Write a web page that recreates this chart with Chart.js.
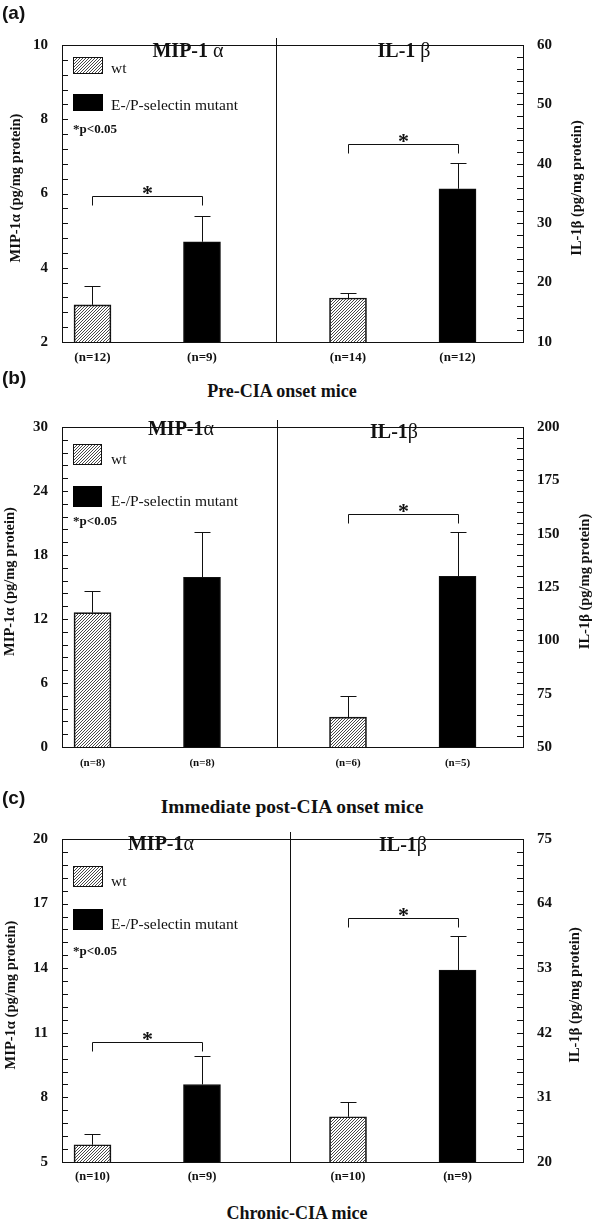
<!DOCTYPE html>
<html><head><meta charset="utf-8">
<script src="https://cdn.jsdelivr.net/npm/chart.js@4/dist/chart.umd.min.js"></script>
<style>
html,body{margin:0;padding:0;background:#fff;}
#page{position:relative;width:600px;height:1222px;overflow:hidden;background:#fff;}
canvas{position:absolute;}
.cap{position:absolute;white-space:nowrap;text-align:center;line-height:1;font-family:"Liberation Serif","Times New Roman",serif;font-weight:bold;color:#111;}
.plab{position:absolute;white-space:nowrap;line-height:1;font-family:"Liberation Sans",Arial,sans-serif;font-weight:bold;font-size:19px;color:#111;}
</style></head><body><div id="page"></div>
<script>
// ---------- data ----------
const panelLetters = ['(a)', '(b)', '(c)'];
const panelCaptions = ['Pre-CIA onset mice', 'Immediate post-CIA onset mice', 'Chronic-CIA mice'];
const legendLabels = ['wt', 'E-/P-selectin mutant'];
const sigNote = '*p<0.05';
const mipTitles = ['MIP-1 α', 'MIP-1α', 'MIP-1α'];
const ilTitles = ['IL-1 β', 'IL-1β', 'IL-1β'];
const mipAxisTitle = 'MIP-1α (pg/mg protein)';
const ilAxisTitle = 'IL-1β (pg/mg protein)';

const mipWt = [3.0, 12.6, 5.8];
const mipWtErr = [0.5, 2.0, 0.5];
const mipMut = [4.7, 15.9, 8.6];
const mipMutErr = [0.7, 4.3, 1.3];
const ilWt = [17.4, 64, 27.7];
const ilWtErr = [0.85, 10, 2.5];
const ilMut = [35.8, 130, 52.7];
const ilMutErr = [4.4, 21, 5.7];

const mipN = [['(n=12)', '(n=9)'], ['(n=8)', '(n=8)'], ['(n=10)', '(n=9)']];
const ilN = [['(n=14)', '(n=12)'], ['(n=6)', '(n=5)'], ['(n=10)', '(n=9)']];

const mipTicks = [[2, 4, 6, 8, 10], [0, 6, 12, 18, 24, 30], [5, 8, 11, 14, 17, 20]];
const ilTicks = [[10, 20, 30, 40, 50, 60], [50, 75, 100, 125, 150, 175, 200], [20, 31, 42, 53, 64, 75]];

const mipSigLevel = [5.92, null, 10.58];
const ilSigLevel = [43.4, 159.4, 61.5];

// ---------- layout / style ----------
const SERIF = "'Liberation Serif','Times New Roman',serif";
const INK = '#111';
const layout = [
  {top:34, bottom:342, div:276, xL:[0.7215,2.676], xR:[0.3425,2.598],
   mipTitle:[188,52], ilTitle:[404,52], leftTitleX:16, rightTitleX:577,
   legend:{x:73,w:29,h:16,wtY:57,mutY:94,pY:133},
   nFont:13, nPad:8, letterTop:3, cap:{cx:282, base:397, size:18}},
  {top:416, bottom:747, div:277, xL:[0.7215,2.685], xR:[0.3516,2.598],
   mipTitle:[181,430], ilTitle:[394,433], leftTitleX:10, rightTitleX:585,
   legend:{x:73,w:28,h:20,wtY:444,mutY:486,pY:525},
   nFont:11, nPad:10, letterTop:368, cap:{cx:292, base:813, size:19.5}},
  {top:828, bottom:1162, div:290, xL:[0.7215,2.804], xR:[0.4703,2.598],
   mipTitle:[161,845], ilTitle:[403,846], leftTitleX:11, rightTitleX:575,
   legend:{x:73,w:29,h:20,wtY:866,mutY:909,pY:955},
   nFont:12.5, nPad:7, letterTop:788, cap:{cx:297, base:1219, size:18}}
];

function makeHatch(){
  const c = document.createElement('canvas'); c.width = 3; c.height = 3;
  const g = c.getContext('2d');
  g.strokeStyle = '#333'; g.lineWidth = 0.9;
  g.beginPath();
  g.moveTo(0,3); g.lineTo(3,0);
  g.moveTo(-1,1); g.lineTo(1,-1);
  g.moveTo(2,4); g.lineTo(4,2);
  g.stroke();
  return g.createPattern(c, 'repeat');
}
const hatch = makeHatch();
const page = document.getElementById('page');

function drawTitle(ctx, text, cx, cy){
  const main = text.slice(0, -1), greek = text.slice(-1);
  ctx.font = 'bold 20px ' + SERIF;
  const w1 = ctx.measureText(main).width;
  ctx.font = '20px ' + SERIF;
  const w2 = ctx.measureText(greek).width;
  const x0 = cx - (w1 + w2) / 2;
  ctx.textAlign = 'left'; ctx.textBaseline = 'middle'; ctx.fillStyle = INK;
  ctx.font = 'bold 20px ' + SERIF; ctx.fillText(main, x0, cy);
  ctx.font = '20px ' + SERIF; ctx.fillText(greek, x0 + w1, cy);
}

function makeHalf(p, side){
  const L = layout[p];
  const isL = side === 'L';
  const ox = isL ? 0 : L.div - 4;
  const oy = L.top - 12;
  const w = isL ? L.div + 4 : 600 - ox;
  const h = (L.bottom - L.top) + 12 + 30;
  const cv = document.createElement('canvas');
  cv.width = w; cv.height = h;
  cv.style.left = ox + 'px'; cv.style.top = oy + 'px';
  cv.style.width = w + 'px'; cv.style.height = h + 'px';
  page.appendChild(cv);

  const ticksArr = isL ? mipTicks[p] : ilTicks[p];
  const vals = isL ? [mipWt[p], mipMut[p]] : [ilWt[p], ilMut[p]];
  const errs = isL ? [mipWtErr[p], mipMutErr[p]] : [ilWtErr[p], ilMutErr[p]];
  const nl = isL ? mipN[p] : ilN[p];
  const xr = isL ? L.xL : L.xR;
  const sig = isL ? mipSigLevel[p] : ilSigLevel[p];
  const ymin = ticksArr[0], ymax = ticksArr[ticksArr.length - 1];
  const minor = (ticksArr[1] - ticksArr[0]) / 5;

  const deco = {
    id: 'deco' + p + side,
    afterDatasetsDraw(chart){
      const ctx = chart.ctx, ys = chart.scales.y;
      const meta = chart.getDatasetMeta(0);
      ctx.save();
      ctx.strokeStyle = INK; ctx.lineWidth = 1;
      meta.data.forEach((el, i) => {
        const x = Math.round(el.x) + 0.5;
        const yt = Math.round(ys.getPixelForValue(vals[i] + errs[i])) + 0.5;
        ctx.beginPath();
        ctx.moveTo(x, el.y); ctx.lineTo(x, yt);
        ctx.moveTo(x - 8, yt); ctx.lineTo(x + 8, yt);
        ctx.stroke();
      });
      if (sig !== null && sig !== undefined){
        const x1 = Math.round(meta.data[0].x) + 0.5, x2 = Math.round(meta.data[1].x) + 0.5;
        const y = Math.round(ys.getPixelForValue(sig)) + 0.5;
        ctx.beginPath();
        ctx.moveTo(x1, y + 9); ctx.lineTo(x1, y); ctx.lineTo(x2, y); ctx.lineTo(x2, y + 9);
        ctx.stroke();
        ctx.fillStyle = INK; ctx.font = 'bold 22px ' + SERIF;
        ctx.textAlign = 'center'; ctx.textBaseline = 'alphabetic';
        ctx.fillText('*', (x1 + x2) / 2, y + 3);
      }
      ctx.restore();
    },
    afterDraw(chart){
      const ctx = chart.ctx, ca = chart.chartArea, ys = chart.scales.y;
      ctx.save();
      ctx.strokeStyle = INK; ctx.lineWidth = 1;
      // minor ticks (inward)
      const n = Math.round((ymax - ymin) / minor);
      ctx.beginPath();
      for (let k = 0; k <= n; k++){
        const py = Math.round(ys.getPixelForValue(ymin + k * minor)) + 0.5;
        if (isL){ ctx.moveTo(ca.left, py); ctx.lineTo(ca.left + 6, py); }
        else { ctx.moveTo(ca.right, py); ctx.lineTo(ca.right - 6, py); }
      }
      // top frame line
      const ty = Math.round(ca.top) + 0.5;
      ctx.moveTo(ca.left, ty); ctx.lineTo(ca.right, ty);
      if (isL){
        const dx = Math.round(ca.right) + 0.5;
        ctx.moveTo(dx, ca.top - 7); ctx.lineTo(dx, ca.bottom);
      }
      ctx.stroke();

      // page-coordinate annotations
      ctx.translate(-ox, -oy);
      const cy = (L.top + L.bottom) / 2;
      ctx.fillStyle = INK;
      if (isL){
        drawTitle(ctx, mipTitles[p], L.mipTitle[0], L.mipTitle[1]);
        // legend
        const lg = L.legend;
        ctx.fillStyle = hatch;
        ctx.fillRect(lg.x, lg.wtY, lg.w, lg.h);
        ctx.strokeRect(lg.x + 0.5, lg.wtY + 0.5, lg.w, lg.h);
        ctx.fillStyle = '#000';
        ctx.fillRect(lg.x, lg.mutY, lg.w + 1, lg.h + 1);
        ctx.fillStyle = INK;
        ctx.font = '15.5px ' + SERIF; ctx.textAlign = 'left'; ctx.textBaseline = 'alphabetic';
        ctx.fillText(legendLabels[0], lg.x + 38, lg.wtY + lg.h);
        ctx.fillText(legendLabels[1], lg.x + 38, lg.mutY + lg.h);
        ctx.font = 'bold 13px ' + SERIF;
        ctx.fillText(sigNote, lg.x, lg.pY);
        // axis title
        ctx.save();
        ctx.translate(L.leftTitleX, cy); ctx.rotate(-Math.PI / 2);
        ctx.font = 'bold 14.5px ' + SERIF; ctx.textAlign = 'center'; ctx.textBaseline = 'middle';
        ctx.fillText(mipAxisTitle, 0, 0);
        ctx.restore();
      } else {
        drawTitle(ctx, ilTitles[p], L.ilTitle[0], L.ilTitle[1]);
        ctx.save();
        ctx.translate(L.rightTitleX, cy); ctx.rotate(-Math.PI / 2);
        ctx.font = 'bold 14.5px ' + SERIF; ctx.textAlign = 'center'; ctx.textBaseline = 'middle';
        ctx.fillText(ilAxisTitle, 0, 0);
        ctx.restore();
      }
      ctx.restore();
    }
  };

  new Chart(cv, {
    type: 'bar',
    data: {
      datasets: [{
        data: vals.map((v, i) => ({x: i + 1, y: v})),
        backgroundColor: [hatch, '#000'],
        borderColor: INK,
        borderWidth: 1,
        barThickness: 37,
        base: ymin
      }]
    },
    options: {
      responsive: false, animation: false, devicePixelRatio: 1,
      layout: {padding: {top: 12, bottom: 0, left: isL ? 0 : 4, right: isL ? 4 : 0}},
      plugins: {legend: {display: false}, tooltip: {enabled: false}},
      scales: {
        x: {
          type: 'linear', min: xr[0], max: xr[1], offset: false,
          grid: {display: false, drawTicks: false, offset: false},
          border: {display: true, color: INK, width: 1},
          ticks: {
            color: INK, padding: L.nPad, maxRotation: 0, autoSkip: false,
            font: {family: SERIF, weight: 'bold', size: L.nFont},
            callback: (v, i) => nl[i] !== undefined ? nl[i] : ''
          },
          afterBuildTicks: s => { s.ticks = [{value: 1}, {value: 2}]; },
          afterFit: s => { s.height = 30; }
        },
        y: {
          type: 'linear', position: isL ? 'left' : 'right', min: ymin, max: ymax,
          grid: {display: false, drawTicks: false},
          border: {display: true, color: INK, width: 1},
          ticks: {color: INK, padding: 14, font: {family: SERIF, weight: 'bold', size: 15}},
          afterBuildTicks: s => { s.ticks = ticksArr.map(v => ({value: v})); },
          afterFit: s => { s.width = isL ? 62 : 77; }
        }
      }
    },
    plugins: [deco]
  });
}

for (let p = 0; p < 3; p++){
  const L = layout[p];
  makeHalf(p, 'L');
  makeHalf(p, 'R');
  const lab = document.createElement('div');
  lab.className = 'plab'; lab.textContent = panelLetters[p];
  lab.style.left = '2px'; lab.style.top = L.letterTop + 'px';
  page.appendChild(lab);
  const cap = document.createElement('div');
  cap.className = 'cap'; cap.textContent = panelCaptions[p];
  cap.style.fontSize = L.cap.size + 'px';
  cap.style.left = (L.cap.cx - 250) + 'px'; cap.style.width = '500px';
  cap.style.top = (L.cap.base - 0.84 * L.cap.size) + 'px';
  page.appendChild(cap);
}
</script>
</body></html>
